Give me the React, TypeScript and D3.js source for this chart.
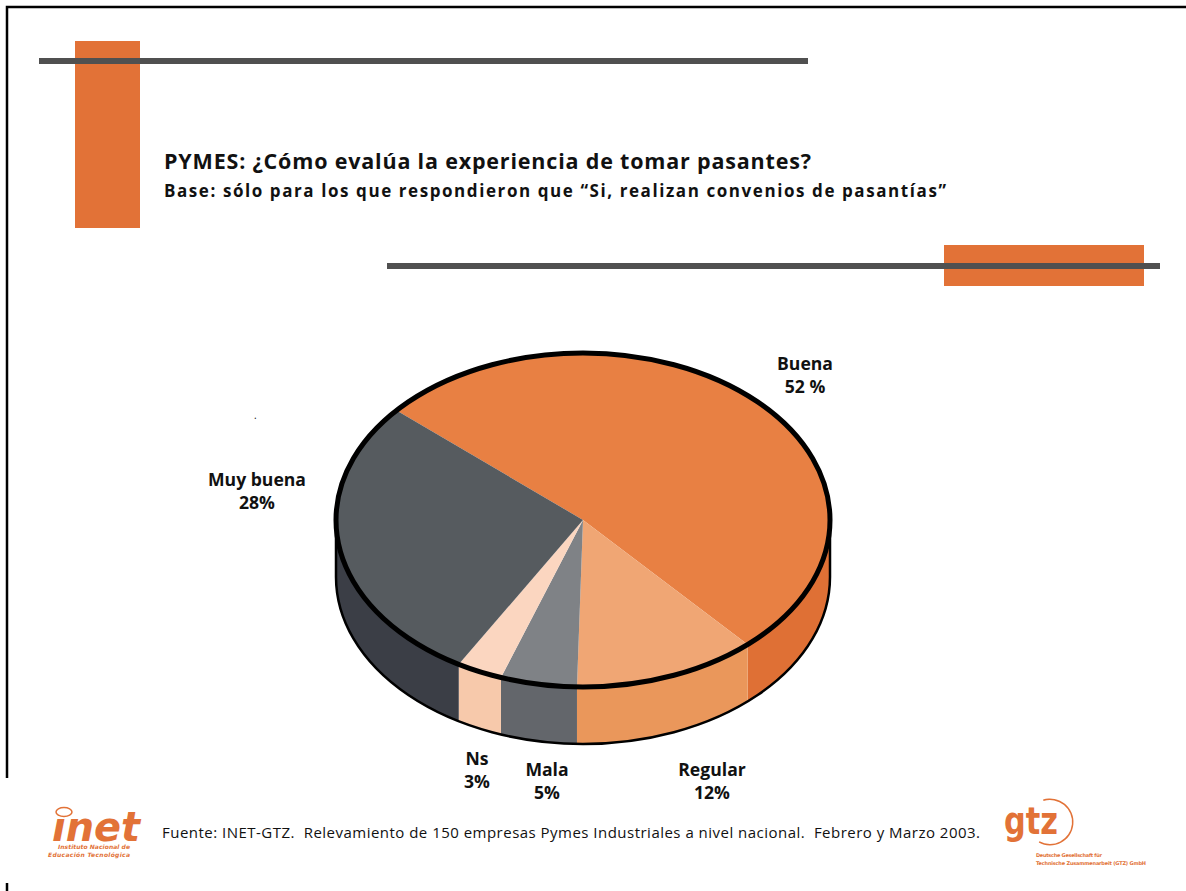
import React, { useEffect, useRef } from 'react';
import * as d3 from 'd3';

const categories = ['Buena', 'Regular', 'Mala', 'Ns', 'Muy buena'];
const values = [52, 12, 5, 3, 28];
const valueLabels = ['52 %', '12%', '5%', '3%', '28%'];
const topColors = ['#E88043', '#F0A674', '#7F8286', '#FBD6C0', '#565B5F'];
const sideColors = ['#DF7035', '#EA975B', '#63666B', '#F7C9AB', '#3B3E46'];

const FONT = '"Open Sans", "Noto Sans", sans-serif';
const LOGO_FONT = '"DejaVu Sans", sans-serif';
const BAR_ORANGE = '#E27237';
const BAR_GRAY = '#505050';

const App: React.FC = () => {
  const ref = useRef<SVGSVGElement | null>(null);

  useEffect(() => {
    const svg = d3.select(ref.current);
    svg.selectAll('*').remove();

    // frame
    svg.append('path')
      .attr('d', 'M7,778 V7 H1186 M7,883 V891')
      .attr('fill', 'none').attr('stroke', '#000').attr('stroke-width', 2.5);

    // decoration bars
    const rects = [
      [75, 41, 65, 187, BAR_ORANGE], [39, 58, 769, 6, BAR_GRAY],
      [944, 245, 200, 41, BAR_ORANGE], [387, 263, 773, 6, BAR_GRAY],
    ];
    rects.forEach(([x, y, w, h, c]) => {
      svg.append('rect').attr('x', x as number).attr('y', y as number)
        .attr('width', w as number).attr('height', h as number).attr('fill', c as string);
    });

    const text = (x: number, y: number, s: string, size: number, weight = 700, anchor = 'start', fill = '#111') =>
      svg.append('text').attr('x', x).attr('y', y).attr('font-family', FONT)
        .attr('font-size', size).attr('font-weight', weight)
        .attr('text-anchor', anchor).attr('fill', fill).text(s);

    text(164, 169, 'PYMES: ¿Cómo evalúa la experiencia de tomar pasantes?', 21.5)
      .attr('textLength', 647).attr('lengthAdjust', 'spacing');
    text(164, 197, 'Base: sólo para los que respondieron que “Si, realizan convenios de pasantías”', 17)
      .attr('textLength', 782).attr('lengthAdjust', 'spacing');

    // pie, the ellipse is a circle of radius rx squashed by ry/rx
    const cx = 583, cy = 520, rx = 247, ry = 167, depth = 57;
    const start = -49 * Math.PI / 180;
    const pie = d3.pie<number>().sort(null).startAngle(start).endAngle(start + 2 * Math.PI);
    const arcs = pie(values);
    const px = (a: number) => cx + rx * Math.sin(a);
    const py = (a: number) => cy - ry * Math.cos(a);

    const side = svg.append('g');
    arcs.forEach((d, i) => {
      const a0 = Math.max(d.startAngle, Math.PI / 2);
      const a1 = Math.min(d.endAngle, 3 * Math.PI / 2);
      if (a1 <= a0) return;
      side.append('path')
        .attr('d', `M${px(a0)},${py(a0)} A${rx},${ry} 0 0 1 ${px(a1)},${py(a1)} L${px(a1)},${py(a1) + depth} A${rx},${ry} 0 0 0 ${px(a0)},${py(a0) + depth} Z`)
        .attr('fill', sideColors[i]);
    });
    side.append('path')
      .attr('d', `M${cx - rx},${cy} V${cy + depth} A${rx},${ry} 0 0 0 ${cx + rx},${cy + depth} V${cy}`)
      .attr('fill', 'none').attr('stroke', '#000').attr('stroke-width', 2.5);

    const arc = d3.arc<d3.PieArcDatum<number>>().innerRadius(0).outerRadius(rx);
    const top = svg.append('g').attr('transform', `translate(${cx},${cy}) scale(1,${ry / rx})`);
    top.selectAll('path').data(arcs).enter().append('path')
      .attr('d', d => arc(d)!)
      .attr('fill', (_, i) => topColors[i]);
    svg.append('ellipse').attr('cx', cx).attr('cy', cy).attr('rx', rx).attr('ry', ry)
      .attr('fill', 'none').attr('stroke', '#000').attr('stroke-width', 5);

    // slice labels
    const labelPos: [number, number][] = [[805, 370], [712, 776], [547, 776], [477, 765], [257, 486]];
    categories.forEach((c, i) => {
      const [x, y] = labelPos[i];
      text(x, y, c, 17.6, 700, 'middle');
      text(x, y + 23, valueLabels[i], 17.6, 700, 'middle');
    });
    text(254, 419, '.', 10, 400);

    // footer
    text(162, 838, 'Fuente: INET-GTZ.  Relevamiento de 150 empresas Pymes Industriales a nivel nacional.  Febrero y Marzo 2003.', 15, 400)
      .attr('textLength', 818).attr('lengthAdjust', 'spacing')
      .style('white-space', 'pre');

    // inet logo
    text(52, 841, 'inet', 40, 800, 'start', BAR_ORANGE).attr('font-family', LOGO_FONT).attr('font-style', 'italic')
      .attr('textLength', 88).attr('lengthAdjust', 'spacingAndGlyphs');
    svg.append('ellipse').attr('cx', 64).attr('cy', 812).attr('rx', 8).attr('ry', 4.5)
      .attr('fill', '#fff').attr('stroke', BAR_ORANGE).attr('stroke-width', 1.5);
    text(58, 849, 'Instituto Nacional de', 6, 700, 'start', BAR_ORANGE).attr('font-family', LOGO_FONT).attr('font-style', 'italic')
      .attr('textLength', 72);
    text(48, 856.5, 'Educación Tecnológica', 6, 700, 'start', BAR_ORANGE).attr('font-family', LOGO_FONT).attr('font-style', 'italic')
      .attr('textLength', 82);

    // gtz logo
    const ring = d3.arc()({ innerRadius: 22, outerRadius: 23.5, startAngle: -0.3, endAngle: Math.PI + 0.5 })!;
    svg.append('path').attr('transform', 'translate(1050,822)').attr('d', ring).attr('fill', BAR_ORANGE);
    text(1004, 834, 'gtz', 38, 800, 'start', BAR_ORANGE).attr('font-family', LOGO_FONT).attr('textLength', 54).attr('lengthAdjust', 'spacingAndGlyphs');
    text(1036, 857, 'Deutsche Gesellschaft für', 5, 700, 'start', BAR_ORANGE).attr('font-family', LOGO_FONT).attr('textLength', 66);
    text(1036, 864.5, 'Technische Zusammenarbeit (GTZ) GmbH', 5, 700, 'start', BAR_ORANGE).attr('font-family', LOGO_FONT).attr('textLength', 110);
  }, []);

  return (
    <svg ref={ref} width={1186} height={891} style={{ position: 'absolute', left: 0, top: 0, background: '#fff' }} />
  );
};

export default App;
